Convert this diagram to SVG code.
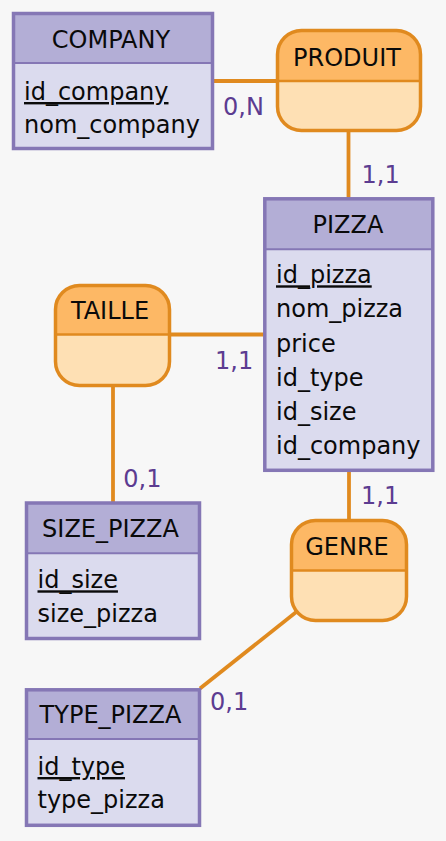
<svg xmlns="http://www.w3.org/2000/svg" width="446" height="841" viewBox="0 0 446 841">
<style>
text{font-family:"DejaVu Sans","Verdana",sans-serif;font-size:24px;fill:#0a0a0a}
.title{text-anchor:middle}
.key{text-decoration:underline}
.card{fill:#5c3c91}
.ehead{fill:#b3aed6}
.ebody{fill:#dbdbee}
.eout{fill:none;stroke:#8577b5;stroke-width:3.5}
.ediv{stroke:#8577b5;stroke-width:2}
.rhead{fill:#fdb865}
.rbody{fill:#fee0b4}
.rout{fill:none;stroke:#e08a1f;stroke-width:3.5}
.rdiv{stroke:#e08a1f;stroke-width:2.5}
.conn path{fill:none;stroke:#e08a1f;stroke-width:3.8}
</style>
<rect width="446" height="841" fill="#f7f7f7"/>
<g class="conn" id="connectors">
<path d="M214,81 H277"/>
<path d="M348.5,131 V199"/>
<path d="M170,334.5 H265"/>
<path d="M113,386 V503"/>
<path d="M349,470 V521"/>
<path d="M349,570 L200,688.5"/>
</g>
<g id="COMPANY">
<rect class="ehead" x="13.5" y="13.5" width="199" height="49.5"/>
<rect class="ebody" x="13.5" y="63" width="199" height="85.5"/>
<line class="ediv" x1="13.5" y1="63" x2="212.5" y2="63"/>
<rect class="eout" x="13.5" y="13.5" width="199" height="135"/>
<text class="title" x="111" y="48">COMPANY</text>
<text class="key" x="24" y="100">id_company</text>
<text x="24" y="133">nom_company</text>
</g>
<g id="PRODUIT">
<path class="rhead" d="M277.5,81 V54.5 A24,24 0 0 1 301.5,30.5 H396.5 A24,24 0 0 1 420.5,54.5 V81 Z"/>
<path class="rbody" d="M277.5,81 H420.5 V106.5 A24,24 0 0 1 396.5,130.5 H301.5 A24,24 0 0 1 277.5,106.5 Z"/>
<line class="rdiv" x1="277.5" y1="81" x2="420.5" y2="81"/>
<rect class="rout" x="277.5" y="30.5" width="143" height="100" rx="24"/>
<text class="title" x="347" y="66">PRODUIT</text>
</g>
<g id="PIZZA">
<rect class="ehead" x="264.8" y="198.8" width="168" height="50.5"/>
<rect class="ebody" x="264.8" y="249.3" width="168" height="221"/>
<line class="ediv" x1="264.8" y1="249.3" x2="432.8" y2="249.3"/>
<rect class="eout" x="264.8" y="198.8" width="168" height="271.5"/>
<text class="title" x="348" y="233.3">PIZZA</text>
<text class="key" x="276" y="283.3">id_pizza</text>
<text x="276" y="317.3">nom_pizza</text>
<text x="276" y="351.5">price</text>
<text x="276" y="385.5">id_type</text>
<text x="276" y="419.5">id_size</text>
<text x="276" y="453.5">id_company</text>
</g>
<g id="TAILLE">
<path class="rhead" d="M55.5,334.5 V309.5 A24,24 0 0 1 79.5,285.5 H145.5 A24,24 0 0 1 169.5,309.5 V334.5 Z"/>
<path class="rbody" d="M55.5,334.5 H169.5 V361.5 A24,24 0 0 1 145.5,385.5 H79.5 A24,24 0 0 1 55.5,361.5 Z"/>
<line class="rdiv" x1="55.5" y1="334.5" x2="169.5" y2="334.5"/>
<rect class="rout" x="55.5" y="285.5" width="114" height="100" rx="24"/>
<text class="title" x="110" y="319">TAILLE</text>
</g>
<g id="SIZE_PIZZA">
<rect class="ehead" x="26.5" y="503" width="173" height="50.3"/>
<rect class="ebody" x="26.5" y="553.3" width="173" height="85.2"/>
<line class="ediv" x1="26.5" y1="553.3" x2="199.5" y2="553.3"/>
<rect class="eout" x="26.5" y="503" width="173" height="135.5"/>
<text class="title" x="110.5" y="537.3">SIZE_PIZZA</text>
<text class="key" x="37.5" y="588.3">id_size</text>
<text x="37.5" y="622.3">size_pizza</text>
</g>
<g id="GENRE">
<path class="rhead" d="M291.5,570.5 V544.5 A24,24 0 0 1 315.5,520.5 H382.5 A24,24 0 0 1 406.5,544.5 V570.5 Z"/>
<path class="rbody" d="M291.5,570.5 H406.5 V596.5 A24,24 0 0 1 382.5,620.5 H315.5 A24,24 0 0 1 291.5,596.5 Z"/>
<line class="rdiv" x1="291.5" y1="570.5" x2="406.5" y2="570.5"/>
<rect class="rout" x="291.5" y="520.5" width="115" height="100" rx="24"/>
<text class="title" x="347" y="555">GENRE</text>
</g>
<g id="TYPE_PIZZA">
<rect class="ehead" x="26.5" y="689.8" width="173" height="49.2"/>
<rect class="ebody" x="26.5" y="739" width="173" height="86.3"/>
<line class="ediv" x1="26.5" y1="739" x2="199.5" y2="739"/>
<rect class="eout" x="26.5" y="689.8" width="173" height="135.5"/>
<text class="title" x="110.5" y="723.3">TYPE_PIZZA</text>
<text class="key" x="37.5" y="775">id_type</text>
<text x="37.5" y="808.3">type_pizza</text>
</g>
<g id="labels">
<text class="card" x="223" y="115">0,N</text>
<text class="card" x="361.5" y="183">1,1</text>
<text class="card" x="215" y="369">1,1</text>
<text class="card" x="123.3" y="486.7">0,1</text>
<text class="card" x="361" y="504.3">1,1</text>
<text class="card" x="210" y="710">0,1</text>
</g>
</svg>
